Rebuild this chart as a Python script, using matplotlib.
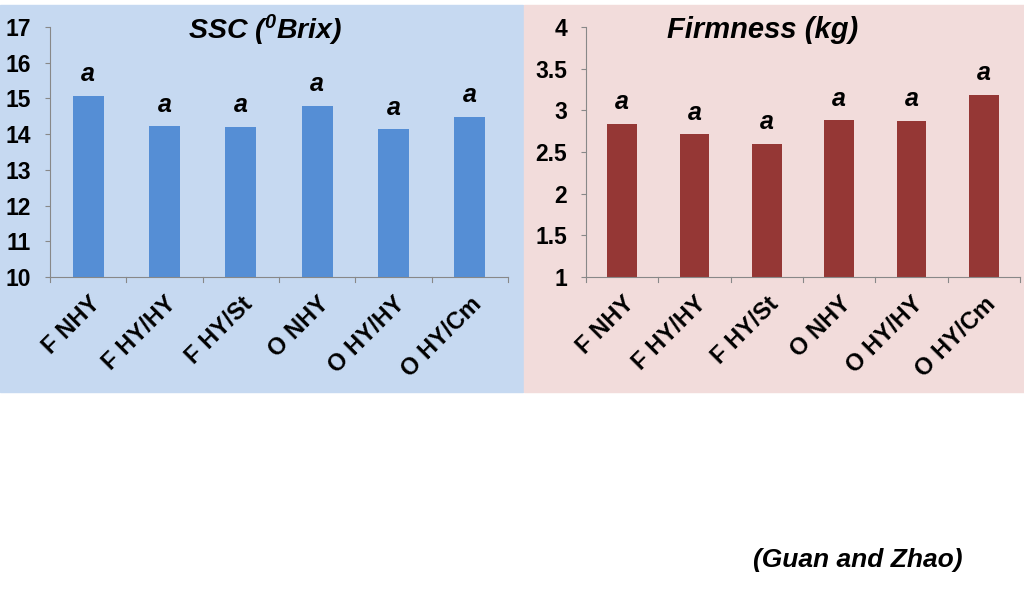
import matplotlib.pyplot as plt
import matplotlib.transforms as mtransforms
from matplotlib.patches import Rectangle

plt.rcParams['font.family'] = ['Liberation Sans', 'DejaVu Sans']
plt.rcParams['mathtext.fontset'] = 'custom'
plt.rcParams['mathtext.rm'] = 'Liberation Sans:italic:bold'
plt.rcParams['mathtext.it'] = 'Liberation Sans:italic:bold'

categories = ["F NHY", "F HY/HY", "F HY/St", "O NHY", "O HY/HY", "O HY/Cm"]
ssc = [15.08, 14.22, 14.2, 14.8, 14.13, 14.48]
firmness = [2.84, 2.71, 2.6, 2.88, 2.87, 3.19]
letters_ssc = ["a"] * 6
letters_firm = ["a"] * 6

W, H = 1024, 594
fig = plt.figure(figsize=(W / 100, H / 100), dpi=100)

# panel backgrounds
fig.patches.append(Rectangle((0, 1 - 392 / H), 523 / W, 387 / H,
                             transform=fig.transFigure, color="#c6d9f1", zorder=-1))
fig.patches.append(Rectangle((524 / W, 1 - 392 / H), 500 / W, 387 / H,
                             transform=fig.transFigure, color="#f2dcdb", zorder=-1))


def panel(rect, values, letters, color, ylim, yticks, title, title_x, title_size):
    ax = fig.add_axes(rect)
    ax.patch.set_alpha(0)
    x = range(len(values))
    ax.bar(x, values, width=0.41, color=color)
    ax.set_ylim(*ylim)
    ax.set_xlim(-0.5, len(values) - 0.5)
    ax.set_yticks(yticks)
    ax.set_yticklabels([f"{t:g}" for t in yticks], fontsize=16.5, fontweight="bold")
    ax.set_xticks(x)
    ax.set_xticklabels(categories, rotation=45, ha="right", rotation_mode="anchor",
                       fontsize=17, fontweight="bold")
    shift = mtransforms.ScaledTranslation(-8 / 100, 0, fig.dpi_scale_trans)
    for lbl in ax.get_xticklabels():
        lbl.set_transform(lbl.get_transform() + shift)
    ax.tick_params(axis="x", length=0, pad=11)
    ax.tick_params(axis="y", length=3.5, color="#888888", pad=10)
    # category boundary ticks
    for b in [i - 0.5 for i in range(len(values) + 1)]:
        ax.plot([b, b], [0, -0.022], transform=ax.get_xaxis_transform(),
                color="#888888", lw=0.8, clip_on=False)
    for s in ["top", "right"]:
        ax.spines[s].set_visible(False)
    for s in ["left", "bottom"]:
        ax.spines[s].set_color("#888888")
        ax.spines[s].set_linewidth(0.8)
    for xi, v, l in zip(x, values, letters):
        ax.annotate(l, (xi, v), xytext=(0, 7), textcoords="offset points",
                    ha="center", va="bottom", fontsize=18, fontweight="bold",
                    fontstyle="italic")
    fig.text(title_x / W, 1 - 30 / H, title, ha="center", va="center",
             fontsize=title_size, fontweight="bold", fontstyle="italic")
    return ax


panel([50 / W, 1 - 277 / H, 458 / W, 250 / H], ssc, letters_ssc, "#558ed5",
      (10, 17), range(10, 18), r"SSC ($^{0}$Brix)", 265, 20.5)
panel([586 / W, 1 - 277 / H, 434 / W, 250 / H], firmness, letters_firm, "#953735",
      (1, 4), [1, 1.5, 2, 2.5, 3, 3.5, 4], "Firmness (kg)", 763, 21)

fig.text(858 / W, 1 - 560 / H, "(Guan and Zhao)", ha="center", va="center",
         fontsize=19, fontweight="bold", fontstyle="italic")

fig.savefig("out.png", dpi=100)
